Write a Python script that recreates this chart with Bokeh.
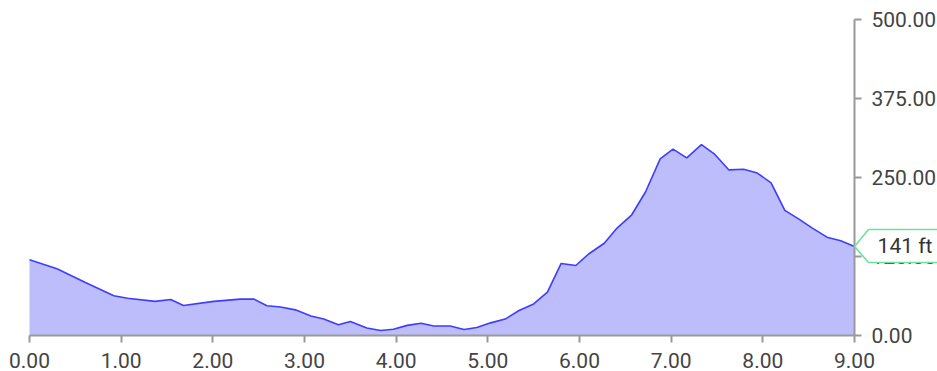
from bokeh.plotting import figure
from bokeh.models import FixedTicker, PrintfTickFormatter, PolyAnnotation, Label
from bokeh.embed import file_html
from bokeh.resources import INLINE

# Distance (x) and elevation in ft (y)
dist = [0, 0.30, 0.61, 0.92, 1.07, 1.37, 1.54, 1.68, 2.01, 2.30, 2.45, 2.59, 2.74, 2.90,
        3.07, 3.21, 3.37, 3.50, 3.68, 3.83, 3.97, 4.12, 4.27, 4.41, 4.59, 4.74, 4.88,
        5.03, 5.19, 5.34, 5.50, 5.65, 5.80, 5.96, 6.10, 6.27, 6.41, 6.57, 6.72, 6.88,
        7.02, 7.17, 7.33, 7.47, 7.63, 7.79, 7.94, 8.09, 8.24, 8.39, 8.54, 8.70, 8.85, 9.00]
elev = [120, 105.5, 84, 63, 59, 54, 57, 47.5, 54, 57.5, 57.5, 47, 45, 40.6,
        31, 26, 17, 22, 12, 8, 10, 16, 19.5, 15, 15, 9.5, 12.7,
        20, 26, 39.5, 50, 68.6, 114, 110.8, 129, 146, 170, 191, 227, 279.5,
        295, 281, 302, 287.5, 262, 263, 257, 241.6, 198, 184.6, 170, 155.6, 150, 141]

x_ticks = [0, 1, 2, 3, 4, 5, 6, 7, 8, 9]
y_ticks = [0, 125, 250, 375, 500]
callout_text = "141 ft"
callout_value = 141
x_min, x_max = 0, 9
y_min, y_max = 0, 500

# The frame covers the whole canvas; axes are pinned at x=9 and y=0 so that
# the callout can extend to the right of the y axis.
W, H = 937, 371
left, right, top, bottom = 29, 854, 19, 335
sx = (right - left) / (x_max - x_min)
sy = (bottom - top) / (y_max - y_min)
xr = (x_min - left / sx, x_max + (W - right) / sx)
yr = (y_min - (H - bottom) / sy, y_max + top / sy)

p = figure(width=W, height=H, x_range=xr, y_range=yr,
           y_axis_location="right", output_backend="svg", toolbar_location=None,
           min_border=0, min_border_left=0, min_border_right=0,
           min_border_top=0, min_border_bottom=0)

p.varea(x=dist, y1=[0] * len(dist), y2=elev, fill_color="#bdbdfb")
p.line(x=dist, y=elev, line_color="#3d3dff", line_width=1.6)

p.xgrid.visible = False
p.ygrid.visible = False
p.outline_line_color = None

for ax, ticks in ((p.xaxis[0], x_ticks), (p.yaxis[0], y_ticks)):
    ax.ticker = FixedTicker(ticks=ticks)
    ax.formatter = PrintfTickFormatter(format="%.2f")
    ax.axis_line_color = "#999999"
    ax.axis_line_width = 2
    ax.major_tick_line_color = "#999999"
    ax.major_tick_line_width = 2
    ax.major_tick_in = 0
    ax.major_tick_out = 7
    ax.minor_tick_line_color = None
    ax.major_label_text_font = "Roboto"
    ax.major_label_text_font_size = "21px"
    ax.major_label_text_color = "#444444"
p.xaxis.fixed_location = y_min
p.xaxis.bounds = (x_min, x_max)
p.yaxis.fixed_location = x_max
p.yaxis.bounds = (y_min, y_max)
p.xaxis.major_label_standoff = 10
p.yaxis.major_label_standoff = 10

poly = PolyAnnotation(xs=[x_max, 9.153, 10.6, 10.6, 9.153],
                      ys=[callout_value, 167.7, 167.7, 115.5, 115.5],
                      fill_color="white", fill_alpha=1.0,
                      line_color="#6fe0a0", line_alpha=1.0, line_width=1.6)
p.add_layout(poly)
lab = Label(x=9.551, y=callout_value, text=callout_text, text_align="center",
            text_baseline="middle", text_font="Roboto", text_font_size="21px",
            text_color="#333333")
p.add_layout(lab)

open("out.html", "w").write(file_html(p, INLINE))
